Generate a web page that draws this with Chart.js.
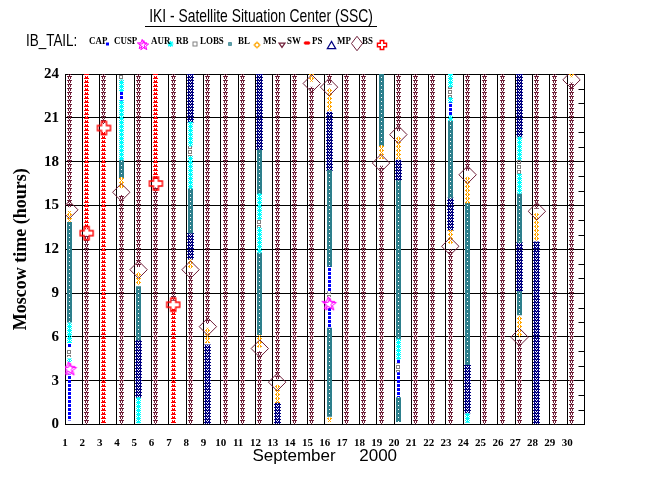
<!DOCTYPE html>
<html>
<head>
<meta charset="utf-8">
<script src="https://cdn.jsdelivr.net/npm/chart.js@4.4.1/dist/chart.umd.min.js"></script>
<style>
  html, body { margin: 0; padding: 0; background: #fff; }
  #wrap { position: relative; width: 650px; height: 500px; overflow: hidden; }
  #c { position: absolute; left: 0; top: 0; }
  .t { position: absolute; white-space: pre; color: #000; line-height: 1; }
  #title { left: 261px; top: 5px; font: 18.5px "Liberation Sans", Arial, sans-serif;
           transform: translateX(-50%) scaleX(0.75); }
  #uline { position: absolute; left: 145px; top: 26px; width: 232px; height: 1px; background: #000; }
  #ib { left: 26px; top: 31.5px; font: 16px "Liberation Sans", Arial, sans-serif;
        transform-origin: left center; transform: scaleX(0.84); }
  .lg { top: 35px; font: bold 10.5px "Liberation Serif", "Times New Roman", serif;
        transform-origin: left center; transform: scaleX(0.85); }
</style>
</head>
<body>
<div id="wrap">
  <canvas id="c" width="650" height="500"></canvas>
  <div class="t" id="title">IKI - Satellite Situation Center (SSC)</div>
  <div id="uline"></div>
  <div class="t" id="ib">IB_TAIL:</div>
</div>
<script>
// region intervals: [day, from hour, to hour]
const CAP = [[1, 0.3, 3.4], [1, 5.3, 5.5], [4, 22.2, 22.8], [16, 6.6, 8.0], [16, 9.1, 10.8],
  [20, 1.9, 3.55], [20, 4.2, 4.45], [23, 21.15, 22.05]];
const AUR = [[1, 4.3, 4.5], [1, 5.6, 6.95], [4, 18.1, 22.2], [4, 22.8, 23.6], [5, 0.1, 1.85],
  [8, 16.15, 18.4], [8, 19.05, 20.7], [12, 11.75, 13.5], [12, 14.05, 15.8], [20, 4.45, 5.85],
  [23, 20.8, 21.15], [23, 22.05, 22.4], [23, 23.1, 24], [24, 0.15, 0.75], [27, 15.8, 17.2],
  [27, 18.1, 19.7]];
const RB = [[1, 4.65, 5.1], [4, 23.6, 24], [8, 18.4, 19.05], [12, 13.5, 14.05], [16, 8.75, 9.1],
  [20, 3.6, 4.15], [23, 22.4, 23.1], [27, 17.2, 18.1]];
const LOBS = [[1, 7.0, 13.85], [4, 16.9, 18.1], [5, 5.8, 9.45], [8, 13.1, 16.15], [12, 6.15, 11.75],
  [12, 15.8, 18.8], [16, 0.55, 6.6], [16, 10.8, 17.4], [19, 19.1, 24], [20, 0.2, 1.85],
  [20, 5.85, 16.7], [23, 15.5, 20.8], [24, 4.1, 15.15], [27, 7.5, 9.1], [27, 12.45, 15.8]];
const BL = [[1, 13.9, 14.6], [4, 16.2, 16.9], [5, 9.6, 10.4], [8, 10.7, 11.3], [9, 5.6, 6.6],
  [12, 5.3, 6.1], [13, 1.5, 2.7], [15, 23.5, 24], [16, 0.2, 0.45], [16, 21.5, 23.0],
  [19, 18.2, 19.1], [20, 18.2, 19.7], [23, 12.4, 13.3], [24, 15.15, 16.95], [27, 6.0, 7.4],
  [28, 12.6, 14.45], [30, 23.8, 24]];
const MS = [[1, 14.9, 24], [2, 0, 12.9], [3, 20.6, 24], [4, 0, 15.7], [5, 10.8, 24], [6, 0, 16.2],
  [7, 8.5, 24], [8, 0, 10.4], [9, 6.9, 24], [10, 0, 24], [11, 0, 24], [12, 0, 5.0], [13, 3.1, 24],
  [14, 0, 24], [15, 0, 23.1], [16, 23.3, 24], [17, 0, 24], [18, 0, 24], [19, 0, 17.7],
  [20, 20.1, 24], [21, 0, 24], [22, 0, 24], [23, 0, 12.0], [24, 17.4, 24], [25, 0, 24],
  [26, 0, 24], [27, 0, 5.8], [28, 14.8, 24], [29, 0, 24], [30, 0, 23.4]];
const SW = [[2, 13.4, 24], [3, 0, 20.0], [6, 16.8, 24], [7, 0, 7.9]];
const PS = [[5, 1.85, 5.8], [8, 11.3, 13.1], [8, 20.7, 24], [9, 0, 5.45], [12, 18.8, 24],
  [13, 0, 1.5], [16, 17.4, 21.4], [20, 16.7, 18.1], [23, 13.3, 15.5], [24, 0.8, 4.1],
  [27, 9.1, 12.45], [27, 19.7, 24], [28, 0, 12.5]];
// single crossings: [day, hour]
const CUSP = [[1, 3.8], [16, 8.25]];
const MP = [[1, 14.7], [4, 15.9], [5, 10.6], [8, 10.6], [9, 6.7], [12, 5.2], [13, 2.9], [15, 23.35],
  [16, 23.1], [19, 17.9], [20, 19.85], [23, 12.2], [24, 17.1], [27, 5.98], [28, 14.6], [30, 23.6]];
const BS = [[2, 13.1], [3, 20.3], [6, 16.5], [7, 8.2]];

const REGIONS = ['CAP', 'CUSP', 'AUR', 'RB', 'LOBS', 'BL', 'MS', 'SW', 'PS', 'MP', 'BS'];
const HOUR_TICKS = [0, 3, 6, 9, 12, 15, 18, 21, 24];
const DAY_LABELS = Array.from({ length: 30 }, (_, i) => i + 1);

const SHIFT = 0.25; // columns sit a little right of the day line
const COL = {
  CAP: '#0000ff', CUSP: '#ff00ff', AUR: '#00ffff', RB: '#808080', LOBS: '#2d7f8c',
  BL: '#ffa500', MS: '#6e1e38', SW: '#ff0000', PS: '#000080', MP: '#6e1e38', BS: '#ff0000'
};

// pixel marks used for the column textures, repeated every `period` px
const MARKS = {
  CAP: { period: 4, rows: ['###', '###', '###'] },
  AUR: { period: 4, rows: ['#.#.#', '.###.', '#####', '.###.'] },
  RB: { period: 5, rows: ['####', '#..#', '#..#', '####'] },
  LOBS: { period: 4, rows: ['#####', '##w##', '#####', '#####'] },
  BL: { period: 4, rows: ['..#..', '.#.#.', '##.##', '.#.#.'] },
  MS: { period: 4, rows: ['.#####.', '..#.#..', '..#.#..', '...#...'] },
  SW: { period: 4, rows: ['.#.#.', '.###.', '#####'] },
  PS: { period: 3, rows: ['...#...', '..#.#..', '..#.#..', '.#...#.', '.#...#.', '#######'] }
};

function line(c, pts) {
  c.moveTo(pts[0], pts[1]);
  for (let i = 2; i < pts.length; i += 2) c.lineTo(pts[i], pts[i + 1]);
}

// vector versions for the legend row and single crossings
const GLYPH = {
  CAP(c, x, y, s) { c.fillStyle = COL.CAP; c.fillRect(x - 1.5 * s, y - 1.5 * s, 3 * s, 3 * s); },
  AUR(c, x, y, s) {
    const r = 2.5 * s, d = r * 0.75;
    c.strokeStyle = COL.AUR; c.lineWidth = 1.2; c.beginPath();
    line(c, [x, y - r, x, y + r]); line(c, [x - r, y, x + r, y]);
    line(c, [x - d, y - d, x + d, y + d]); line(c, [x + d, y - d, x - d, y + d]);
    c.stroke();
  },
  RB(c, x, y, s) { c.strokeStyle = COL.RB; c.lineWidth = 1; c.strokeRect(x - 2 * s, y - 2 * s, 4 * s, 4 * s); },
  LOBS(c, x, y, s) {
    c.fillStyle = COL.LOBS; c.fillRect(x - 2 * s, y - 2 * s, 4 * s, 4 * s);
    c.fillStyle = '#fff'; c.fillRect(x - 0.5, y - 0.5, 1, 1);
  },
  BL(c, x, y, s) {
    c.strokeStyle = COL.BL; c.lineWidth = 1.2; c.beginPath();
    c.arc(x, y, 1.4 * s, 0, Math.PI * 2);
    line(c, [x, y - 1.4 * s, x, y - 2.4 * s]); line(c, [x, y + 1.4 * s, x, y + 2.4 * s]);
    line(c, [x - 1.4 * s, y, x - 2.4 * s, y]); line(c, [x + 1.4 * s, y, x + 2.4 * s, y]);
    c.stroke();
  },
  MS(c, x, y, s) {
    c.strokeStyle = COL.MS; c.lineWidth = 1.2; c.beginPath();
    line(c, [x - 2.5 * s, y - 1.5 * s, x + 2.5 * s, y - 1.5 * s, x, y + 2 * s]);
    c.closePath(); c.stroke();
  },
  SW(c, x, y, s) {
    c.fillStyle = COL.SW;
    c.fillRect(x - 1.5 * s, y - 1 * s, 3 * s, 2 * s);
    c.fillRect(x - 2 * s, y - 0.5 * s, 4 * s, 1 * s);
  },
  PS(c, x, y, s) {
    c.strokeStyle = COL.PS; c.lineWidth = 1.2; c.beginPath();
    line(c, [x, y - 3 * s, x + 3.5 * s, y + 3 * s, x - 3.5 * s, y + 3 * s]);
    c.closePath(); c.stroke();
  },
  MP(c, x, y, s) {
    c.strokeStyle = COL.MP; c.lineWidth = 1; c.beginPath();
    line(c, [x, y - 8.5 * s, x + 6.5 * s, y, x, y + 8.5 * s, x - 6.5 * s, y]);
    c.closePath(); c.stroke();
  },
  BS(c, x, y, s) {
    const r = 6.5 * s, a = 2.5 * s;
    c.strokeStyle = COL.BS; c.lineWidth = 1.4; c.beginPath();
    line(c, [x - a, y - r, x + a, y - r, x + a, y - a, x + r, y - a, x + r, y + a, x + a, y + a,
      x + a, y + r, x - a, y + r, x - a, y + a, x - r, y + a, x - r, y - a, x - a, y - a]);
    c.closePath(); c.stroke();
  },
  CUSP(c, x, y, s) {
    c.strokeStyle = COL.CUSP; c.lineWidth = 1;
    for (const [ox, oy] of [[-0.8, -0.5], [0.8, 0.6]]) {
      c.beginPath();
      for (let i = 0; i < 10; i++) {
        const r = (i % 2 ? 2.8 : 6.8) * s, ang = -Math.PI / 2 + i * Math.PI / 5;
        const px = x + ox + r * Math.cos(ang), py = y + oy + r * Math.sin(ang);
        i ? c.lineTo(px, py) : c.moveTo(px, py);
      }
      c.closePath(); c.stroke();
    }
  }
};

// repeating column texture for one region
function makeTile(name) {
  const { period, rows } = MARKS[name];
  const w = 9;
  const cv = document.createElement('canvas');
  cv.width = w; cv.height = period;
  const c = cv.getContext('2d');
  const x0 = Math.floor((w - rows[0].length) / 2);
  for (const pass of ['#', 'w']) {
    c.fillStyle = pass === '#' ? COL[name] : '#fff';
    rows.forEach((r, gy) => {
      for (let gx = 0; gx < r.length; gx++) {
        if (r[gx] === pass) c.fillRect(x0 + gx, gy % period, 1, 1);
      }
    });
  }
  return { canvas: cv, w, name };
}

function makeIcon(name, size) {
  const cv = document.createElement('canvas');
  cv.width = size; cv.height = size;
  GLYPH[name](cv.getContext('2d'), size / 2, size / 2, 1);
  return cv;
}

function patternFor(tile) {
  return (ctx) => {
    const chart = ctx.chart, xs = chart.scales && chart.scales.x;
    if (!xs || !ctx.raw) return COL[tile.name];
    const p = chart.ctx.createPattern(tile.canvas, 'repeat');
    const px = xs.getPixelForValue(ctx.raw.x);
    p.setTransform(new DOMMatrix().translate(Math.round(px - tile.w / 2), 0));
    return p;
  };
}

function barSet(name, rows) {
  const tile = makeTile(name);
  return {
    type: 'bar', label: name,
    data: rows.map(r => ({ x: r[0] + SHIFT, y: [r[1], r[2]] })),
    backgroundColor: patternFor(tile),
    borderWidth: 0, barThickness: 9, grouped: false
  };
}

function pointSet(name, rows, style, radius) {
  return {
    type: 'scatter', label: name, showLine: false,
    data: rows.map(r => ({ x: r[0] + SHIFT, y: r[1] })),
    pointStyle: style, pointRadius: radius,
    borderColor: COL[name], backgroundColor: 'rgba(0,0,0,0)', borderWidth: 1
  };
}

const datasets = [
  pointSet('CUSP', CUSP, makeIcon('CUSP', 18), 8),
  pointSet('BS', BS, makeIcon('BS', 17), 8),
  pointSet('MP', MP, 'rectRot', 8.7),
  barSet('CAP', CAP),
  barSet('RB', RB),
  barSet('AUR', AUR),
  barSet('BL', BL),
  barSet('LOBS', LOBS),
  barSet('PS', PS),
  barSet('SW', SW),
  barSet('MS', MS)
];

// legend labels (HTML text) and their markers
const LABEL_X = [89, 114, 151, 176, 200, 238, 262.5, 287, 311.5, 336.5, 361.5];
const ICON_POS = [[107.5, 44], [143, 45], [170.5, 44], [195, 44], [230, 44], [257, 45], [282, 45],
  [307, 43], [331.5, 45], [357, 43.5], [382, 45]];
const ICON_SCALE = { CAP: 1, CUSP: 0.75, AUR: 1.2, RB: 1, LOBS: 0.9, BL: 1.5, MS: 1.2, SW: 1.6, PS: 1.2, MP: 0.85, BS: 0.7 };
const wrap = document.getElementById('wrap');
REGIONS.forEach((r, i) => {
  const d = document.createElement('div');
  d.className = 't lg';
  d.style.left = LABEL_X[i] + 'px';
  d.textContent = r;
  wrap.appendChild(d);
});

const extras = {
  id: 'extras',
  afterDraw(chart) {
    const { ctx, chartArea: a, scales: { y } } = chart;
    ctx.save();
    ctx.strokeStyle = '#000'; ctx.lineWidth = 1; ctx.beginPath();
    for (let h = 1; h < 24; h++) {
      if (HOUR_TICKS.includes(h)) continue;
      const py = Math.round(y.getPixelForValue(h)) + 0.5;
      ctx.moveTo(a.right - 6, py); ctx.lineTo(a.right, py);
    }
    ctx.stroke();
    REGIONS.forEach((r, i) => GLYPH[r](ctx, ICON_POS[i][0], ICON_POS[i][1], ICON_SCALE[r]));
    ctx.restore();
  }
};

new Chart(document.getElementById('c'), {
  type: 'bar',
  data: { datasets },
  options: {
    responsive: false,
    animation: false,
    events: [],
    layout: { padding: { left: 0, top: 74, right: 65.5, bottom: 0 } },
    plugins: { legend: { display: false }, tooltip: { enabled: false }, title: { display: false } },
    scales: {
      x: {
        type: 'linear', min: 1, max: 31, offset: false,
        grid: { color: '#000', lineWidth: 1, drawTicks: false, offset: false },
        border: { color: '#000', width: 1 },
        afterBuildTicks: (s) => { s.ticks = Array.from({ length: 31 }, (_, i) => ({ value: i + 1 })); },
        ticks: {
          autoSkip: false, maxRotation: 0, color: '#000', padding: 12,
          font: { family: 'Liberation Serif', size: 11, weight: 'bold' },
          callback: (v) => DAY_LABELS.includes(v) ? String(v) : ''
        },
        title: {
          display: true, text: 'September     2000', color: '#000',
          font: { family: 'Liberation Sans', size: 17 }, padding: { top: 0, bottom: 33 }
        },
        afterFit: (s) => { s.height = 75.5; }
      },
      y: {
        min: 0, max: 24,
        grid: { color: '#000', lineWidth: 1, drawTicks: false },
        border: { color: '#000', width: 1 },
        afterBuildTicks: (s) => { s.ticks = HOUR_TICKS.map(v => ({ value: v })); },
        ticks: {
          color: '#000', padding: 6,
          font: { family: 'Liberation Serif', size: 15, weight: 'bold' }
        },
        title: {
          display: true, text: 'Moscow time (hours)', color: '#000',
          font: { family: 'Liberation Serif', size: 18, weight: 'bold' }, padding: { top: 11, bottom: 0 }
        },
        afterFit: (s) => { s.width = 65; }
      }
    }
  },
  plugins: [extras]
});
</script>
</body>
</html>
